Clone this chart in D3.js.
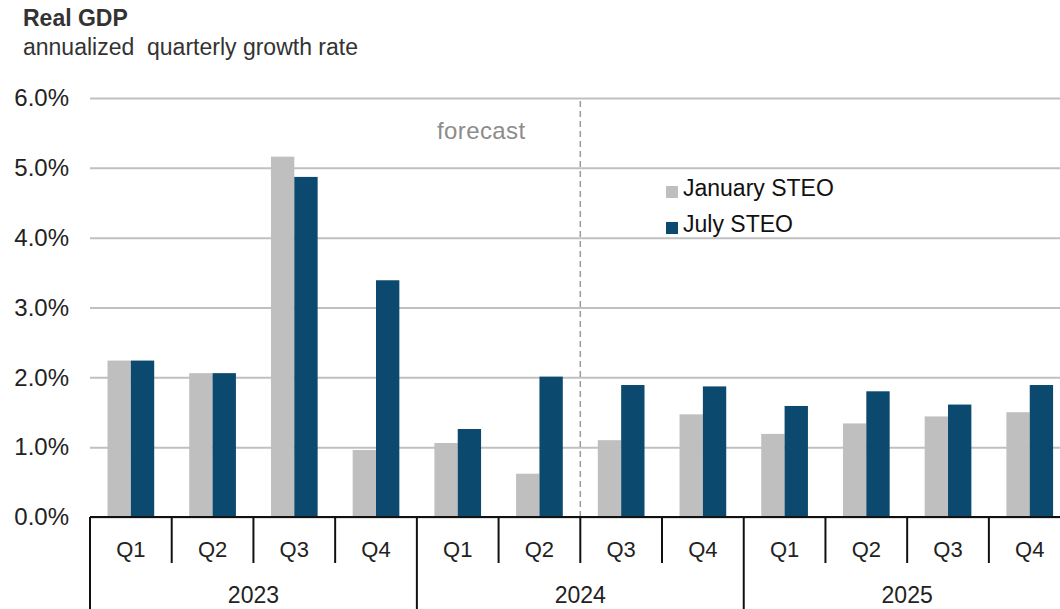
<!DOCTYPE html>
<html>
<head>
<meta charset="utf-8">
<script src="https://cdn.jsdelivr.net/npm/d3@7"></script>
<style>
  html, body { margin: 0; padding: 0; background: #fff; }
  svg { display: block; font-family: "Liberation Sans", Arial, sans-serif; }
</style>
</head>
<body>
<svg id="chart" width="1060" height="609"></svg>
<script>
// Real GDP, annualized quarterly growth rate (%), January vs July STEO
const years = ["2023", "2024", "2025"];
const quarters = ["Q1", "Q2", "Q3", "Q4"];
const januarySTEO = [2.24, 2.06, 5.16, 0.96, 1.06, 0.62, 1.10, 1.47, 1.19, 1.34, 1.44, 1.50];
const julySTEO    = [2.24, 2.06, 4.87, 3.39, 1.26, 2.01, 1.89, 1.87, 1.59, 1.80, 1.61, 1.89];
const yTicks = [0, 1, 2, 3, 4, 5, 6];
const seriesNames = ["January STEO", "July STEO"];
const forecastStart = 6; // first forecast quarter index (2024 Q3)

const colors = { "January STEO": "#bfbfbf", "July STEO": "#0b4a6e" };

const svg = d3.select("#chart");
const plotLeft = 90, plotRight = 1070.6, plotTop = 98, plotBottom = 517;

const periods = d3.range(years.length * quarters.length);
const x = d3.scaleBand().domain(periods).range([plotLeft, plotRight]).padding(0);
const bw = x.bandwidth();
const x1 = d3.scaleBand().domain(seriesNames).range([bw * 0.2143, bw * 0.7857]).padding(0);
const y = d3.scaleLinear().domain([0, 6]).range([plotBottom, plotTop]);

// Title
svg.append("text").attr("x", 23).attr("y", 26)
  .attr("font-size", 23).attr("font-weight", "bold").attr("fill", "#333")
  .text("Real GDP");
svg.append("text").attr("x", 23).attr("y", 55)
  .attr("font-size", 23).attr("fill", "#333")
  .attr("xml:space", "preserve")
  .text("annualized  quarterly growth rate");

// Y axis with gridlines
const yAxis = svg.append("g").attr("transform", `translate(${plotLeft},0)`)
  .call(d3.axisLeft(y).tickValues(yTicks).tickSize(-(1060 - plotLeft)).tickPadding(21)
    .tickFormat(d => d3.format(".1%")(d / 100)));
yAxis.select(".domain").remove();
yAxis.selectAll(".tick line").attr("stroke", "#c0c0c0").attr("stroke-width", 2);
yAxis.selectAll(".tick text").attr("font-size", 24).attr("fill", "#222")
  .attr("font-family", "Liberation Sans, Arial, sans-serif");

// Bars
const rows = periods.map(i => ({ i, vals: [januarySTEO[i], julySTEO[i]] }));
const groups = svg.append("g").selectAll("g").data(rows).join("g")
  .attr("transform", d => `translate(${x(d.i)},0)`);
groups.selectAll("rect")
  .data(d => seriesNames.map((s, k) => ({ s, v: d.vals[k] })))
  .join("rect")
  .attr("x", d => x1(d.s))
  .attr("width", x1.bandwidth())
  .attr("y", d => y(d.v))
  .attr("height", d => y(0) - y(d.v))
  .attr("fill", d => colors[d.s]);

// Forecast divider
const fx = x(forecastStart);
svg.append("line").attr("x1", fx).attr("x2", fx).attr("y1", plotTop + 3).attr("y2", plotBottom)
  .attr("stroke", "#9a9a9a").attr("stroke-width", 1.5).attr("stroke-dasharray", "6,4");
svg.append("text").attr("x", fx - 99).attr("y", 139)
  .attr("text-anchor", "middle").attr("font-size", 24).attr("letter-spacing", 0.4)
  .attr("fill", "#8c8c8c")
  .text("forecast");

// Category axis: baseline, quarter dividers, year dividers and labels
const axisG = svg.append("g");
axisG.append("line").attr("x1", plotLeft).attr("x2", 1060).attr("y1", plotBottom).attr("y2", plotBottom)
  .attr("stroke", "#111").attr("stroke-width", 2);
periods.concat([periods.length]).forEach(i => {
  const xp = i < periods.length ? x(i) : plotRight;
  const isYear = i % quarters.length === 0;
  axisG.append("line").attr("x1", xp).attr("x2", xp)
    .attr("y1", plotBottom).attr("y2", isYear ? 612 : 563)
    .attr("stroke", "#111").attr("stroke-width", 2);
});
axisG.selectAll("text.q").data(periods).join("text").attr("class", "q")
  .attr("x", i => x(i) + bw / 2).attr("y", 557)
  .attr("text-anchor", "middle").attr("font-size", 22).attr("fill", "#222")
  .text(i => quarters[i % quarters.length]);
axisG.selectAll("text.yr").data(years).join("text").attr("class", "yr")
  .attr("x", (d, k) => (x(k * 4) + (k * 4 + 4 < periods.length ? x(k * 4 + 4) : plotRight)) / 2)
  .attr("y", 603)
  .attr("text-anchor", "middle").attr("font-size", 23).attr("fill", "#222")
  .text(d => d);

// Legend
const legend = svg.append("g").attr("transform", "translate(666,196)");
seriesNames.forEach((s, k) => {
  const g = legend.append("g").attr("transform", `translate(0,${k * 36})`);
  g.append("rect").attr("x", 0).attr("y", -10).attr("width", 12).attr("height", 12)
    .attr("fill", colors[s]);
  g.append("text").attr("x", 17).attr("y", 0).attr("font-size", 23).attr("fill", "#111")
    .text(s);
});
</script>
</body>
</html>
